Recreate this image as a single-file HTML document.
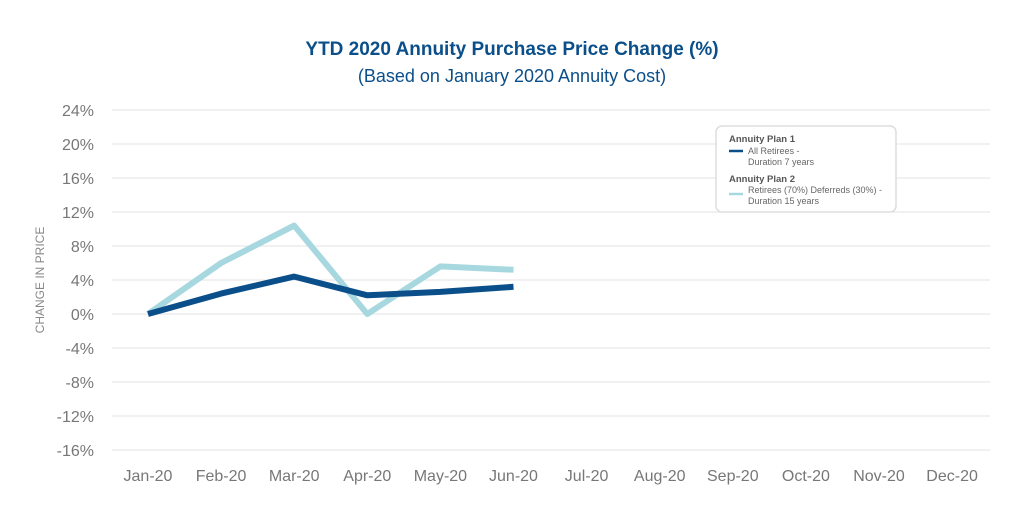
<!DOCTYPE html>
<html><head><meta charset="utf-8"><style>
body{margin:0;background:#fff;}
svg{font-family:"Liberation Sans",sans-serif;}
</style></head><body>
<svg id="c" width="1024" height="512">
<text x="512" y="55" text-anchor="middle" font-size="19" font-weight="bold" fill="#0b4f8a">YTD 2020 Annuity Purchase Price Change (%)</text>
<text x="512" y="82" text-anchor="middle" font-size="18" fill="#0b4f8a">(Based on January 2020 Annuity Cost)</text>
<text transform="translate(44,280) rotate(-90)" text-anchor="middle" font-size="12" fill="#888">CHANGE IN PRICE</text>
<g id="grid"></g><g id="series"></g>
<g>
<rect x="716" y="126" width="180" height="86" rx="6" fill="#fff" stroke="#ddd" stroke-width="1.5"/>
<text x="729" y="142" font-size="9.5" font-weight="bold" fill="#555">Annuity Plan 1</text>
<line x1="729" y1="151" x2="743" y2="151" stroke="#0b4f8a" stroke-width="2.5"/>
<text x="748" y="154" font-size="9" fill="#666">All Retirees -</text>
<text x="748" y="165" font-size="9" fill="#666">Duration 7 years</text>
<text x="729" y="182" font-size="9.5" font-weight="bold" fill="#555">Annuity Plan 2</text>
<line x1="729" y1="194" x2="743" y2="194" stroke="#a8d8df" stroke-width="2.5"/>
<text x="748" y="193" font-size="9" fill="#666">Retirees (70%) Deferreds (30%) -</text>
<text x="748" y="204" font-size="9" fill="#666">Duration 15 years</text>
</g>
</svg>
<script>
const categories=["Jan-20","Feb-20","Mar-20","Apr-20","May-20","Jun-20","Jul-20","Aug-20","Sep-20","Oct-20","Nov-20","Dec-20"];
const plan1=[0,2.4,4.4,2.2,2.6,3.2];
const plan2=[0,6.0,10.4,0,5.6,5.2];
const yTicks=[24,20,16,12,8,4,0,-4,-8,-12,-16];
const NS="http://www.w3.org/2000/svg";
const y=v=>314-(v*8.5);
const x=i=>148+i*73.1;
const grid=document.getElementById('grid'),ser=document.getElementById('series');
function mk(t,a,p){const e=document.createElementNS(NS,t);for(const k in a)e.setAttribute(k,a[k]);p.appendChild(e);return e;}
yTicks.forEach(v=>{
 const l=mk('line',{x1:112,x2:990,y1:y(v),y2:y(v),stroke:'#e3e3e3','stroke-width':1},grid);
 
 
 const t=mk('text',{x:94,y:y(v)+6,'text-anchor':'end','font-size':16,fill:'#777'},grid);
 t.textContent=v+'%';
 
 
});
categories.forEach((c,i)=>{
 const t=mk('text',{x:x(i),y:481,'text-anchor':'middle','font-size':16,fill:'#777'},grid);
 t.textContent=c;
 
 
});
function line(d,col,name){
 const p=mk('polyline',{points:d.map((v,i)=>x(i)+','+y(v)).join(' '),fill:'none',stroke:col,'stroke-width':6,'stroke-linejoin':'round'},ser);
 
 
}
line(plan2,'#a8d8df','plan2-line');
line(plan1,'#0b4f8a','plan1-line');
</script>
</body></html>
